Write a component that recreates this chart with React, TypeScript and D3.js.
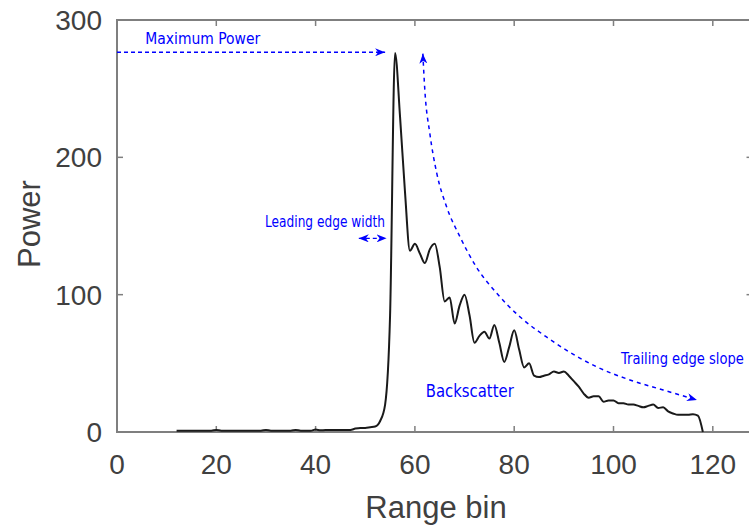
import React, { useEffect, useRef } from 'react';
import * as d3 from 'd3';

// Waveform: power per range bin
const bins = d3.range(12, 119);
const power = [
  1, 1, 1, 1, 1, 1, 1, 1, 1.5, 1, // 12-21
  1, 1, 1, 1, 1, 1, 1, 1, 1.5, 1, // 22-31
  1, 1, 1, 1, 1.5, 1, 1, 1, 1.8, 1.2, // 32-41
  1.5, 1.5, 1.5, 1.5, 1.5, 1.5, 2.5, 3, 3, 3.5, // 42-51
  4, 8, 20, 85, 276, 230, 175, 132, 137, 130, // 52-61
  123, 133, 137, 120, 95, 98, 79, 92, 100, 85, // 62-71
  65, 70, 73, 68, 78, 65, 51, 62, 74, 60, // 72-81
  47, 50, 41, 40, 41, 42, 44, 43, 44, 41, // 82-91
  37, 33, 28, 25, 26, 26, 22, 23, 23, 21, // 92-101
  21, 20, 20, 19, 18, 19, 20, 17.5, 18, 15, // 102-111
  13.5, 12.5, 12.5, 12.5, 13, 12, 0 // 112-118
];

const xTicks = [0, 20, 40, 60, 80, 100, 120];
const yTicks = [0, 100, 200, 300];

// Annotation anchors (data units)
const maxPowerArrow = [[0, 276.5], [54, 276.5]];
const leadingArrow = [[48.7, 141], [54.3, 141]];
const trailingCurve = [
  [61.6, 275.5], [62.0, 249], [63.0, 217.6], [64.4, 188.5], [66.4, 163.8],
  [69.1, 142], [72.4, 120], [76.5, 101], [81.2, 83.7], [86.5, 69.2],
  [89.8, 61.2], [96.7, 47.3], [103.3, 37.9], [110, 30.6], [116.8, 23.3]
];
const labels = [
  { text: 'Maximum Power', x: 5.7, y: 282.5, len: 115 },
  { text: 'Leading edge width', x: 29.8, y: 149.5, len: 120 },
  { text: 'Backscatter', x: 62.2, y: 25.5, len: 88 },
  { text: 'Trailing edge slope', x: 101.5, y: 49.5, len: 123 }
];

const W = 749;
const H = 527;
const margin = { left: 117, top: 20 };
const plotW = 128 * 4.965;
const plotH = 412;

const App = () => {
  const svgRef = useRef<SVGSVGElement | null>(null);

  useEffect(() => {
    if (!svgRef.current) return;
    const root = d3.select(svgRef.current);
    root.selectAll('*').remove();

    const x = d3.scaleLinear().domain([0, 128]).range([0, plotW]);
    const y = d3.scaleLinear().domain([0, 300]).range([plotH, 0]);

    const defs = root.append('defs');
    defs.append('marker')
      .attr('id', 'head')
      .attr('viewBox', '0 0 10 8')
      .attr('refX', 10)
      .attr('refY', 4)
      .attr('markerWidth', 10)
      .attr('markerHeight', 8)
      .attr('markerUnits', 'userSpaceOnUse')
      .attr('orient', 'auto-start-reverse')
      .append('path')
      .attr('d', 'M0,0 L10,4 L0,8 L3,4 Z')
      .attr('fill', '#0000ff');

    const g = root.append('g')
      .attr('transform', `translate(${margin.left},${margin.top})`);

    const axisColor = '#7f7f7f';
    const textColor = '#404040';

    // box
    g.append('rect')
      .attr('x', 0).attr('y', 0)
      .attr('width', plotW).attr('height', plotH)
      .attr('fill', 'none')
      .attr('stroke', axisColor)
      .attr('stroke-width', 2);

    // ticks (inward, on all sides)
    xTicks.forEach(t => {
      g.append('line').attr('x1', x(t)).attr('x2', x(t)).attr('y1', plotH).attr('y2', plotH - 6)
        .attr('stroke', axisColor).attr('stroke-width', 1.5);
      g.append('line').attr('x1', x(t)).attr('x2', x(t)).attr('y1', 0).attr('y2', 6)
        .attr('stroke', axisColor).attr('stroke-width', 1.5);
      g.append('text')
        .attr('x', x(t)).attr('y', plotH + 42)
        .attr('text-anchor', 'middle')
        .attr('font-family', 'Liberation Sans, Arial, sans-serif')
        .attr('font-size', 28)
        .attr('fill', textColor)
        .text(t);
    });
    yTicks.forEach(t => {
      g.append('line').attr('x1', 0).attr('x2', 6).attr('y1', y(t)).attr('y2', y(t))
        .attr('stroke', axisColor).attr('stroke-width', 1.5);
      g.append('line').attr('x1', plotW).attr('x2', plotW - 6).attr('y1', y(t)).attr('y2', y(t))
        .attr('stroke', axisColor).attr('stroke-width', 1.5);
      g.append('text')
        .attr('x', -15).attr('y', y(t) + 10)
        .attr('text-anchor', 'end')
        .attr('font-family', 'Liberation Sans, Arial, sans-serif')
        .attr('font-size', 28)
        .attr('fill', textColor)
        .text(t);
    });

    // axis labels
    root.append('text')
      .attr('x', 436).attr('y', 518)
      .attr('text-anchor', 'middle')
      .attr('font-family', 'Liberation Sans, Arial, sans-serif')
      .attr('font-size', 31)
      .attr('fill', textColor)
      .text('Range bin');
    root.append('text')
      .attr('transform', 'translate(40,224) rotate(-90)')
      .attr('text-anchor', 'middle')
      .attr('font-family', 'Liberation Sans, Arial, sans-serif')
      .attr('font-size', 31)
      .attr('fill', textColor)
      .text('Power');

    // waveform
    const line = d3.line<number>()
      .x((_, i) => x(bins[i]))
      .y(d => y(d))
      .curve(d3.curveMonotoneX);
    g.append('path')
      .datum(power)
      .attr('d', line)
      .attr('fill', 'none')
      .attr('stroke', '#1a1a1a')
      .attr('stroke-width', 2)
      .attr('stroke-linejoin', 'round');

    // annotations
    const pl = d3.line<number[]>().x(d => x(d[0])).y(d => y(d[1]));
    g.append('path')
      .attr('d', pl(maxPowerArrow))
      .attr('fill', 'none').attr('stroke', '#0000ff').attr('stroke-width', 1.3)
      .attr('stroke-dasharray', '4,3')
      .attr('marker-end', 'url(#head)');
    g.append('path')
      .attr('d', pl(leadingArrow))
      .attr('fill', 'none').attr('stroke', '#0000ff').attr('stroke-width', 1.3)
      .attr('stroke-dasharray', '4,3')
      .attr('marker-start', 'url(#head)')
      .attr('marker-end', 'url(#head)');
    const cl = d3.line<number[]>().x(d => x(d[0])).y(d => y(d[1])).curve(d3.curveMonotoneX);
    g.append('path')
      .attr('d', cl(trailingCurve))
      .attr('fill', 'none').attr('stroke', '#0000ff').attr('stroke-width', 1.5)
      .attr('stroke-dasharray', '4,4')
      .attr('marker-start', 'url(#head)')
      .attr('marker-end', 'url(#head)');

    // condensed look: squeeze each label horizontally to its measured width
    labels.forEach(l => {
      const t = g.append('text')
        .attr('font-family', 'DejaVu Sans, sans-serif')
        .attr('font-size', l.text === 'Backscatter' ? 17.5 : 16)
        .attr('fill', '#0000ff')
        .text(l.text);
      const natural = (t.node() as SVGTextElement).getComputedTextLength() || l.len;
      const k = l.len / natural;
      t.attr('transform', `translate(${x(l.x)},${y(l.y)}) scale(${k},1)`);
    });
  }, []);

  return (
    <svg
      ref={svgRef}
      width={W}
      height={H}
      style={{ position: 'absolute', left: 0, top: 0, background: '#fff' }}
    />
  );
};

export default App;
